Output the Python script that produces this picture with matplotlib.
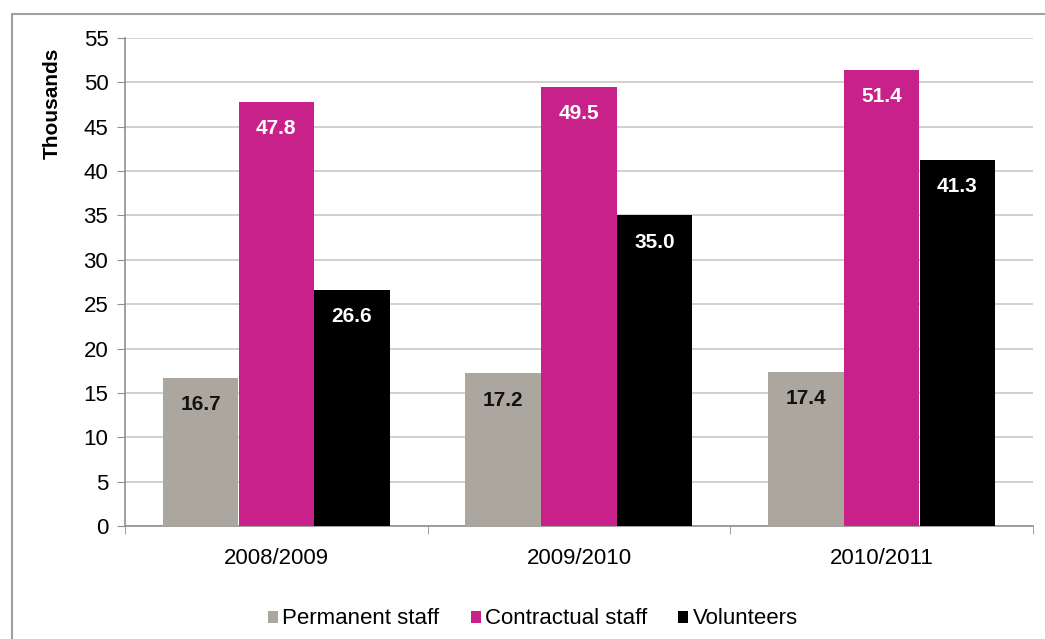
import numpy as np
import matplotlib
matplotlib.use('Agg')
import matplotlib.pyplot as plt
from matplotlib.patches import Rectangle

plt.rcParams['font.family'] = ['Liberation Sans', 'DejaVu Sans']

years = ['2008/2009', '2009/2010', '2010/2011']
series = ['Permanent staff', 'Contractual staff', 'Volunteers']
permanent = [16.7, 17.2, 17.4]
contractual = [47.8, 49.5, 51.4]
volunteers = [26.6, 35.0, 41.3]

colors = ['#aba69e', '#c8228a', '#000000']
label_colors = ['#111111', 'white', 'white']

fig = plt.figure(figsize=(10.45, 6.39), dpi=100)
ax = fig.add_axes([125 / 1045, 1 - 526 / 639, 908 / 1045, 488 / 639])

# outer frame
fig.patches.append(Rectangle((12 / 1045, -0.05), 1.1, 1 - 14 / 639 + 0.05,
                             transform=fig.transFigure, fill=False,
                             edgecolor='#a0a0a0', linewidth=1.5))

x = np.arange(len(years))
w = 0.25
for i, (vals, name) in enumerate(zip([permanent, contractual, volunteers], series)):
    pos = x + (i - 1) * w
    ax.bar(pos, vals, width=w, color=colors[i], label=name, zorder=3)
    for p, v in zip(pos, vals):
        ax.text(p, v - 3.0, f'{v:.1f}', ha='center', va='center',
                color=label_colors[i], fontsize=15, fontweight='bold', zorder=4)

ax.set_xlim(-0.5, 2.5)
ax.set_ylim(0, 55)
ax.set_yticks(range(0, 56, 5))
ax.yaxis.grid(True, color='#c8c8c8', linewidth=1.2, zorder=0)
ax.set_xticks(x)
ax.set_xticklabels(years, fontsize=16)
ax.set_xticks([-0.5, 0.5, 1.5, 2.5], minor=True)
ax.tick_params(axis='x', which='major', length=0, pad=16)
ax.tick_params(axis='x', which='minor', length=6, color='#909090', direction='out')
ax.tick_params(axis='y', labelsize=16, length=6, color='#909090', pad=6)

for s in ['top', 'right']:
    ax.spines[s].set_visible(False)
ax.spines['left'].set_color('#909090')
ax.spines['bottom'].set_color('#909090')
ax.spines['left'].set_linewidth(1.2)
ax.spines['bottom'].set_linewidth(1.2)

ax.set_ylabel('Thousands', fontsize=15, fontweight='bold')
ax.yaxis.set_label_coords(-63 / 908, 0.867)

leg = fig.legend(loc='center', bbox_to_anchor=(0.51, 1 - 619 / 639), ncol=3,
                 frameon=False, fontsize=16, handlelength=0.45, handleheight=0.45,
                 handletextpad=0.2, columnspacing=1.4)

fig.savefig('out.png', dpi=100)
